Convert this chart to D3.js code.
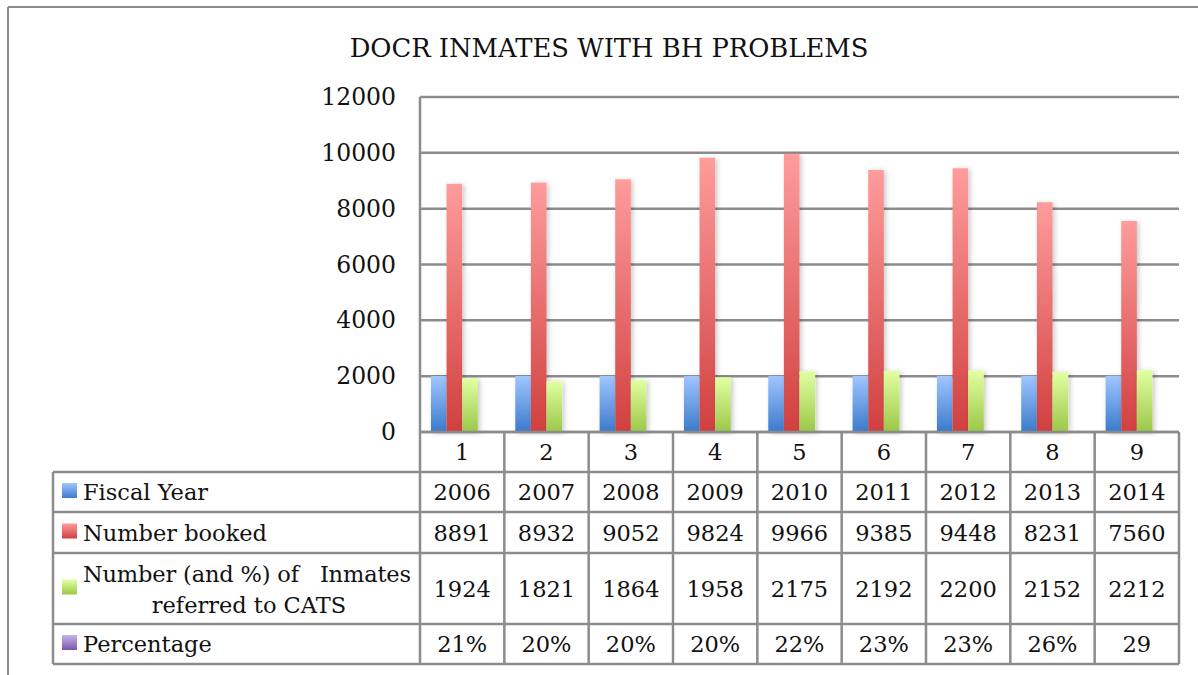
<!DOCTYPE html>
<html>
<head>
<meta charset="utf-8">
<script src="https://cdn.jsdelivr.net/npm/d3@7"></script>
<style>
  body { margin: 0; background: #fff; }
  svg text { font-family: "DejaVu Serif", "Liberation Serif", serif; fill: #111; }
</style>
</head>
<body>
<div id="chart"></div>
<script>
// données
const categories = [1, 2, 3, 4, 5, 6, 7, 8, 9];
const fiscalYear = [2006, 2007, 2008, 2009, 2010, 2011, 2012, 2013, 2014];
const numberBooked = [8891, 8932, 9052, 9824, 9966, 9385, 9448, 8231, 7560];
const referredToCats = [1924, 1821, 1864, 1958, 2175, 2192, 2200, 2152, 2212];
const percentage = [21, 20, 20, 20, 22, 23, 23, 26, 29];
const percentageLabels = ["21%", "20%", "20%", "20%", "22%", "23%", "23%", "26%", "29"];
const yTicks = [0, 2000, 4000, 6000, 8000, 10000, 12000];

const series = [
  { key: "fy", label: ["Fiscal Year"], values: fiscalYear, texts: fiscalYear, top: "#a0c6ff", bottom: "#3b7acb" },
  { key: "booked", label: ["Number booked"], values: numberBooked, texts: numberBooked, top: "#ff9c9c", bottom: "#d0403f" },
  { key: "cats", label: ["Number (and %) of   Inmates", "referred to CATS"], values: referredToCats, texts: referredToCats, top: "#e2ffa2", bottom: "#9bc848" },
  { key: "pct", label: ["Percentage"], values: percentage, texts: percentageLabels, top: "#c9b3ec", bottom: "#7958a8" }
];

const W = 1198, H = 675;
const plot = { left: 420, right: 1179, top: 97, bottom: 432 };
const rowLines = [432, 472, 512, 553, 624, 664];
const tableLeft = 53;
const gridColor = "#8c8c8c";
const fontSize = "22.5px";

const svg = d3.select("#chart").append("svg")
  .attr("width", W).attr("height", H);

const defs = svg.append("defs");
series.forEach(s => {
  const g = defs.append("linearGradient")
    .attr("id", "grad-" + s.key)
    .attr("x1", 0).attr("y1", 0).attr("x2", 0).attr("y2", 1);
  g.append("stop").attr("offset", "0%").attr("stop-color", s.top);
  g.append("stop").attr("offset", "100%").attr("stop-color", s.bottom);
});
const shadow = defs.append("filter").attr("id", "shadow")
  .attr("x", "-50%").attr("y", "-10%").attr("width", "200%").attr("height", "130%");
shadow.append("feDropShadow")
  .attr("dx", 2).attr("dy", 1).attr("stdDeviation", 2.5)
  .attr("flood-color", "#000").attr("flood-opacity", 0.22);

// cadre extérieur (haut + gauche)
svg.append("line").attr("x1", 8).attr("x2", W).attr("y1", 7).attr("y2", 7)
  .attr("stroke", gridColor).attr("stroke-width", 2);
svg.append("line").attr("x1", 8).attr("x2", 8).attr("y1", 7).attr("y2", H)
  .attr("stroke", gridColor).attr("stroke-width", 2);

// titre
svg.append("text")
  .attr("x", 609).attr("y", 57)
  .attr("text-anchor", "middle")
  .style("font-size", "25.8px")
  .text("DOCR INMATES WITH BH PROBLEMS");

// échelles
const x0 = d3.scaleBand().domain(categories).range([plot.left, plot.right]).padding(0);
const x1 = d3.scaleBand().domain(series.map(s => s.key)).range([0, x0.bandwidth()])
  .paddingInner(0).paddingOuter(0.7);
const y = d3.scaleLinear().domain([0, 12000]).range([plot.bottom, plot.top]);

// grille
svg.append("g").selectAll("line").data(yTicks).join("line")
  .attr("x1", plot.left).attr("x2", plot.right)
  .attr("y1", d => y(d)).attr("y2", d => y(d))
  .attr("stroke", gridColor).attr("stroke-width", 2.5);

// axe Y
const yAxis = svg.append("g")
  .attr("transform", `translate(${plot.left},0)`)
  .call(d3.axisLeft(y).tickValues(yTicks).tickSize(0).tickPadding(24).tickFormat(d3.format("d")));
yAxis.select(".domain").remove();
yAxis.selectAll("text").style("font-size", "23.5px").attr("fill", "#111");

// barres
const groups = svg.append("g").selectAll("g").data(categories).join("g")
  .attr("transform", d => `translate(${x0(d)},0)`);
series.forEach(s => {
  groups.append("rect")
    .attr("x", x1(s.key))
    .attr("width", x1.bandwidth())
    .attr("y", (d, i) => y(s.values[i]))
    .attr("height", (d, i) => y(0) - y(s.values[i]))
    .attr("fill", `url(#grad-${s.key})`)
    .attr("filter", "url(#shadow)");
});

// tableau de données
const table = svg.append("g");
const colEdges = categories.map(c => x0(c)).concat([plot.right]);

// lignes horizontales
rowLines.forEach((ly, i) => {
  table.append("line")
    .attr("x1", i === 0 ? plot.left : tableLeft).attr("x2", plot.right)
    .attr("y1", ly).attr("y2", ly)
    .attr("stroke", gridColor).attr("stroke-width", 2.5);
});
// lignes verticales
table.append("line").attr("x1", plot.left).attr("x2", plot.left)
  .attr("y1", plot.top).attr("y2", rowLines[rowLines.length - 1])
  .attr("stroke", gridColor).attr("stroke-width", 2.5);
table.append("line").attr("x1", tableLeft).attr("x2", tableLeft)
  .attr("y1", rowLines[1]).attr("y2", rowLines[rowLines.length - 1])
  .attr("stroke", gridColor).attr("stroke-width", 2.5);
colEdges.slice(1).forEach(cx => {
  table.append("line").attr("x1", cx).attr("x2", cx)
    .attr("y1", rowLines[0]).attr("y2", rowLines[rowLines.length - 1])
    .attr("stroke", gridColor).attr("stroke-width", 2.5);
});

// en-têtes de catégories
table.selectAll(".cat").data(categories).join("text")
  .attr("class", "cat")
  .attr("x", d => x0(d) + x0.bandwidth() / 2)
  .attr("y", (rowLines[0] + rowLines[1]) / 2)
  .attr("dy", "0.36em")
  .attr("text-anchor", "middle")
  .style("font-size", fontSize)
  .text(d => d);

// lignes de séries
series.forEach((s, r) => {
  const top = rowLines[r + 1], bot = rowLines[r + 2];
  const mid = (top + bot) / 2;
  table.append("rect")
    .attr("x", 62).attr("y", mid - 9).attr("width", 15).attr("height", 15)
    .attr("fill", `url(#grad-${s.key})`);
  if (s.label.length === 1) {
    table.append("text").attr("x", 83).attr("y", mid).attr("dy", "0.36em")
      .style("font-size", fontSize).text(s.label[0]);
  } else {
    table.append("text").attr("x", 83).attr("y", mid - 7)
      .style("font-size", fontSize).style("white-space", "pre")
      .attr("textLength", 328).attr("lengthAdjust", "spacing")
      .text(s.label[0]);
    table.append("text").attr("x", 249).attr("y", mid + 24).attr("text-anchor", "middle")
      .style("font-size", fontSize).text(s.label[1]);
  }
  table.selectAll(".v-" + s.key).data(categories).join("text")
    .attr("class", "v-" + s.key)
    .attr("x", d => x0(d) + x0.bandwidth() / 2)
    .attr("y", mid)
    .attr("dy", "0.36em")
    .attr("text-anchor", "middle")
    .style("font-size", fontSize)
    .text((d, i) => s.texts[i]);
});
</script>
</body>
</html>
